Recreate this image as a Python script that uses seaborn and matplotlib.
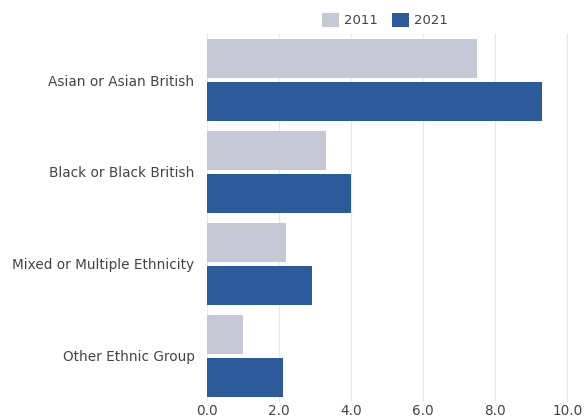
import matplotlib
matplotlib.use("Agg")
import matplotlib.pyplot as plt
import seaborn as sns
import pandas as pd

categories = ["Asian or Asian British", "Black or Black British",
              "Mixed or Multiple Ethnicity", "Other Ethnic Group"]
values_2011 = [7.5, 3.3, 2.2, 1.0]
values_2021 = [9.3, 4.0, 2.9, 2.1]
years = ["2011", "2021"]
xticks = [0, 2, 4, 6, 8, 10]

df = pd.DataFrame({
    "category": categories * 2,
    "value": values_2011 + values_2021,
    "year": [years[0]] * len(categories) + [years[1]] * len(categories),
})

sns.set_theme(style="white")
plt.rcParams["font.family"] = ["DejaVu Sans"]

fig = plt.figure(figsize=(5.85, 4.20), dpi=100)
ax = fig.add_axes([0.354, 0.043, 0.619, 0.876])

palette = {"2011": "#c6c8d5", "2021": "#2c5a9a"}
sns.barplot(data=df, y="category", x="value", hue="year", order=categories,
            hue_order=years, palette=palette, orient="h", width=0.94, gap=0.1,
            saturation=1, linewidth=0, ax=ax)

ax.set_xlim(0, 10.05)
ax.set_xticks(xticks)
ax.set_xticklabels([f"{t:.1f}" for t in xticks])
ax.xaxis.grid(True, color="#e8e8ec", linewidth=0.9)
ax.set_axisbelow(True)
for s in ax.spines.values():
    s.set_visible(False)
ax.set_xlabel("")
ax.set_ylabel("")
ax.tick_params(axis="both", length=0, labelsize=9.8, colors="#444444", pad=9)
ax.tick_params(axis="x", pad=1.5)

handles, labels = ax.get_legend_handles_labels()
ax.get_legend().remove()
fig.legend(handles, labels, loc="center", bbox_to_anchor=(0.658, 0.952),
           ncol=2, frameon=False, fontsize=9.5, handlelength=1.3, handleheight=1.25,
           columnspacing=1.05, handletextpad=0.4, labelcolor="#444444")

fig.savefig("out.png", dpi=100)
